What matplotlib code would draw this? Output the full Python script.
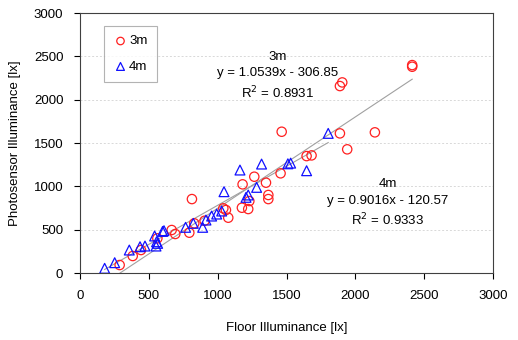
import numpy as np
import matplotlib
matplotlib.use('Agg')
import matplotlib.pyplot as plt

plt.rcParams['font.family'] = ['Liberation Sans', 'DejaVu Sans']

# 3m measurements (floor, photosensor)
floor_3m = [288, 383, 443, 562, 666, 692, 794, 813, 830, 905, 1041, 1060, 1077,
            1176, 1181, 1222, 1230, 1266, 1351, 1368, 1368, 1457, 1465, 1646,
            1682, 1888, 1888, 1905, 1941, 2142, 2413, 2413]
sensor_3m = [92, 196, 265, 400, 496, 450, 465, 853, 573, 603, 746, 727, 638,
             753, 1023, 738, 830, 1111, 1042, 900, 853, 1150, 1630, 1349,
             1357, 1611, 2157, 2199, 1427, 1623, 2399, 2380]

# 4m measurements
floor_4m = [179, 252, 358, 436, 472, 542, 552, 564, 556, 610, 600, 767, 823, 891,
            915, 956, 993, 1029, 1046, 1162, 1206, 1222, 1283, 1319, 1510, 1530,
            1646, 1803]
sensor_4m = [54, 119, 265, 303, 311, 427, 311, 342, 360, 488, 480, 527, 573, 527,
             611, 657, 680, 715, 938, 1188, 873, 900, 988, 1257, 1260, 1268,
             1180, 1611]

# trendline coefficients shown on the chart
slope_3m, icpt_3m, r2_3m = 1.0539, -306.85, 0.8931
slope_4m, icpt_4m, r2_4m = 0.9016, -120.57, 0.9333

fs = 9.5
fig = plt.figure(figsize=(5.18, 3.4), dpi=100)
ax = fig.add_axes([80/518, 1-273/340, 413/518, 260/340])

xs = np.array([min(floor_3m), max(floor_3m)])
ax.plot(xs, slope_3m*xs + icpt_3m, color='#a0a0a0', lw=0.8, zorder=1)
xs = np.array([min(floor_4m), max(floor_4m)])
ax.plot(xs, slope_4m*xs + icpt_4m, color='#a0a0a0', lw=0.8, zorder=1)

ax.scatter(floor_3m, sensor_3m, s=45, facecolors='none', edgecolors='#ff2020',
           linewidths=0.9, marker='o', label='3m', zorder=3)
ax.scatter(floor_4m, sensor_4m, s=50, facecolors='none', edgecolors='#1010ff',
           linewidths=0.9, marker='^', label='4m', zorder=3)

ax.set_xlim(0, 3000)
ax.set_ylim(0, 3000)
ax.set_xticks(range(0, 3001, 500))
ax.set_yticks(range(0, 3001, 500))
ax.tick_params(direction='out', length=4, labelsize=fs, pad=8)
ax.yaxis.grid(True, color='#d8d8d8', ls=(0, (2, 2)), lw=0.7)
ax.set_axisbelow(True)
for s in ax.spines.values():
    s.set_color('#404040')

ax.set_xlabel('Floor Illuminance [lx]', fontsize=fs, labelpad=15)
ax.set_ylabel('Photosensor Illuminance [lx]', fontsize=fs, labelpad=9)

# trendline annotations, one line each
ax.text(1438, 2491, '3m', ha='center', va='center', fontsize=fs)
ax.text(1438, 2307, 'y = %.4fx - %.2f' % (slope_3m, -icpt_3m),
        ha='center', va='center', fontsize=fs)
ax.text(1438, 2076, 'R$^2$ = %.4f' % r2_3m, ha='center', va='center', fontsize=fs)
ax.text(2237, 1027, '4m', ha='center', va='center', fontsize=fs)
ax.text(2237, 830, 'y = %.4fx - %.2f' % (slope_4m, -icpt_4m),
        ha='center', va='center', fontsize=fs)
ax.text(2237, 611, 'R$^2$ = %.4f' % r2_4m, ha='center', va='center', fontsize=fs)

leg = ax.legend(loc='upper left', bbox_to_anchor=(104/518, 1-26/340),
                bbox_transform=fig.transFigure, borderaxespad=0, fontsize=fs,
                frameon=True, fancybox=False, handletextpad=0.1, handlelength=1.1,
                labelspacing=1.0, borderpad=0.7, markerscale=0.8)
leg.get_frame().set_edgecolor('#a0a0a0')
leg.get_frame().set_linewidth(0.8)

fig.savefig('out.png', dpi=100)
